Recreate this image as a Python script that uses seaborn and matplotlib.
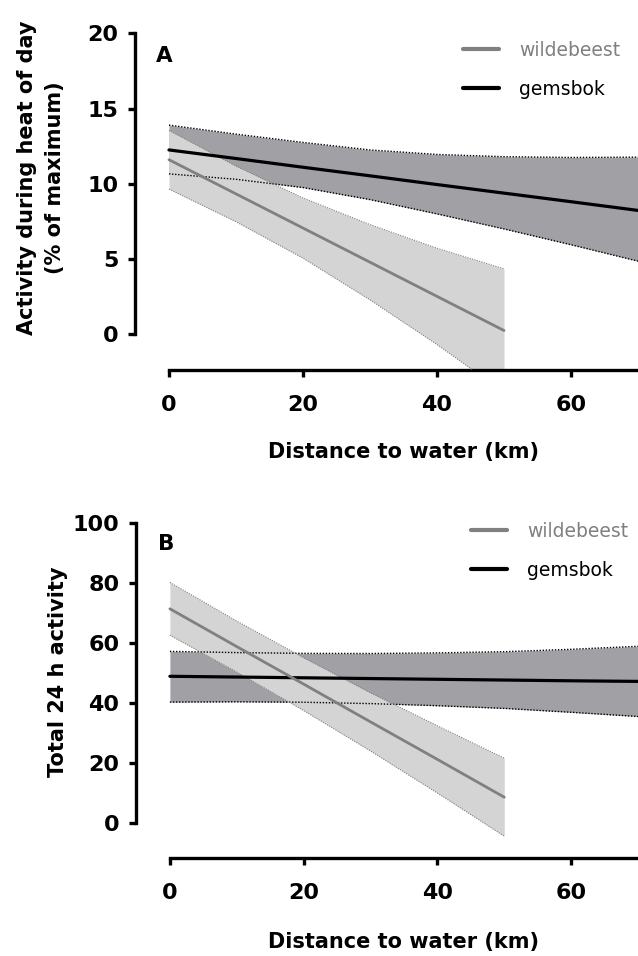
import matplotlib
matplotlib.use('Agg')
import seaborn as sns
import pandas as pd
import numpy as np
import matplotlib.pyplot as plt

# Panel A: activity during heat of day (% of maximum)
wb_x = [0, 10, 20, 30, 40, 50]
wb_a_fit = [11.6, 9.33, 7.06, 4.79, 2.52, 0.25]
wb_a_upper = [13.55, 11.18, 9.06, 7.29, 5.72, 4.35]
wb_a_lower = [9.65, 7.48, 5.06, 2.29, -0.68, -3.85]

gb_x = [0, 10, 20, 30, 40, 50, 60, 70]
gb_a_fit = [12.25, 11.68, 11.10, 10.53, 9.95, 9.38, 8.81, 8.23]
gb_a_upper = [13.9, 13.3, 12.75, 12.25, 11.95, 11.8, 11.75, 11.77]
gb_a_lower = [10.66, 10.3, 9.75, 8.95, 8.0, 7.0, 5.95, 4.86]

# Panel B: total 24 h activity
wb_b_fit = [71.3, 58.7, 46.2, 33.6, 21.1, 8.5]
wb_b_upper = [80.1, 67.2, 55.0, 43.3, 32.3, 21.5]
wb_b_lower = [62.5, 50.2, 37.4, 23.9, 9.9, -4.5]

gb_b_fit = [48.8, 48.55, 48.3, 48.05, 47.8, 47.55, 47.3, 47.1]
gb_b_upper = [57.1, 56.7, 56.45, 56.4, 56.6, 57.0, 57.8, 58.8]
gb_b_lower = [40.2, 40.3, 40.15, 39.7, 39.0, 38.1, 36.8, 35.4]

x_ticks = [0, 20, 40, 60]
a_ticks = [0, 5, 10, 15, 20]
b_ticks = [0, 20, 40, 60, 80, 100]

WB_LINE = '#808080'
WB_FILL = '#d4d4d4'
GB_LINE = '#000000'
GB_FILL = '#a1a0a5'

sns.set_style('ticks')
plt.rcParams['font.family'] = ['DejaVu Sans']
plt.rcParams['text.color'] = 'black'
plt.rcParams['axes.labelcolor'] = 'black'

W, H = 638, 956
fig = plt.figure(figsize=(W / 100, H / 100), dpi=100)


def px_axes(left, top, right, bottom):
    return fig.add_axes([left / W, 1 - bottom / H, (right - left) / W, (bottom - top) / H])


def draw_panel(ax, wb_fit, wb_up, wb_lo, gb_fit, gb_up, gb_lo):
    ax.fill_between(gb_x, gb_lo, gb_up, color=GB_FILL, lw=0, zorder=1)
    ax.fill_between(wb_x, wb_lo, wb_up, color=WB_FILL, lw=0, zorder=2)
    for y in (gb_up, gb_lo):
        ax.plot(gb_x, y, color=GB_LINE, lw=1.0, ls=(0, (1, 1.2)), zorder=3)
    for y in (wb_up, wb_lo):
        ax.plot(wb_x, y, color=WB_LINE, lw=0.8, ls=(0, (1, 1.2)), zorder=3)
    df_gb = pd.DataFrame({'x': gb_x, 'y': gb_fit})
    df_wb = pd.DataFrame({'x': wb_x, 'y': wb_fit})
    sns.lineplot(data=df_wb, x='x', y='y', color=WB_LINE, lw=2.0, ax=ax,
                 label='wildebeest', zorder=5)
    sns.lineplot(data=df_gb, x='x', y='y', color=GB_LINE, lw=2.3, ax=ax,
                 label='gemsbok', zorder=4)


def style_axes(ax, yticks):
    for s in ('top', 'right'):
        ax.spines[s].set_visible(False)
    for s in ('left', 'bottom'):
        ax.spines[s].set_linewidth(2.4)
        ax.spines[s].set_color('black')
    ax.spines['left'].set_bounds(yticks[0], yticks[-1])
    ax.spines['bottom'].set_bounds(0, 70)
    ax.set_xticks(x_ticks)
    ax.set_yticks(yticks)
    ax.tick_params(axis='both', direction='out', length=5, width=2.4, colors='black',
                   labelsize=16)
    ax.tick_params(axis='x', pad=13)
    ax.tick_params(axis='y', pad=7)
    for lab in ax.get_xticklabels() + ax.get_yticklabels():
        lab.set_fontweight('bold')
    ax.set_xlim(-5.07, 70)
    ax.set_xlabel('Distance to water (km)', fontsize=15, fontweight='bold')


def add_legend(ax, x_px, y_px):
    leg = ax.legend(loc='upper left', bbox_to_anchor=(x_px / W, 1 - y_px / H),
                    bbox_transform=fig.transFigure, frameon=False, fontsize=13.5,
                    handlelength=1.9, handletextpad=1.1, labelspacing=1.05,
                    borderpad=0, borderaxespad=0)
    for h in leg.get_lines():
        h.set_linewidth(3.0)
    leg.get_texts()[0].set_color(WB_LINE)
    leg.get_texts()[1].set_color('black')


# Panel A
ax_a = px_axes(135, 33.3, 638, 370.4)
draw_panel(ax_a, wb_a_fit, wb_a_upper, wb_a_lower, gb_a_fit, gb_a_upper, gb_a_lower)
ax_a.set_ylim(-2.4, 20)
style_axes(ax_a, a_ticks)
ax_a.set_ylabel('Activity during heat of day\n(% of maximum)', fontsize=15,
                fontweight='bold', linespacing=1.55, va='center')
ax_a.yaxis.set_label_coords((41 - 135) / 503, (370.4 - 178) / 337.1)
ax_a.xaxis.set_label_coords(0.5 + 0.5 * 34 / 503, -(452 - 370.4) / 337.1)
ax_a.xaxis.label.set_va('center')
ax_a.text(156 / W, 1 - 62 / H, 'A', transform=fig.transFigure, fontsize=15.5,
          fontweight='bold', ha='left', va='baseline')
add_legend(ax_a, 463, 41)

# Panel B
ax_b = px_axes(136, 522.7, 638, 857.7)
draw_panel(ax_b, wb_b_fit, wb_b_upper, wb_b_lower, gb_b_fit, gb_b_upper, gb_b_lower)
ax_b.set_ylim(-11.67, 100)
style_axes(ax_b, b_ticks)
ax_b.set_ylabel('Total 24 h activity', fontsize=15, fontweight='bold', va='center')
ax_b.yaxis.set_label_coords((58 - 136) / 502, (857.7 - 671.5) / 335)
ax_b.xaxis.set_label_coords(0.5 + 0.5 * 34 / 502, -(942 - 857.7) / 335)
ax_b.xaxis.label.set_va('center')
ax_b.text(158 / W, 1 - 550 / H, 'B', transform=fig.transFigure, fontsize=15.5,
          fontweight='bold', ha='left', va='baseline')
add_legend(ax_b, 471, 522)

fig.savefig('out.png', dpi=100)
